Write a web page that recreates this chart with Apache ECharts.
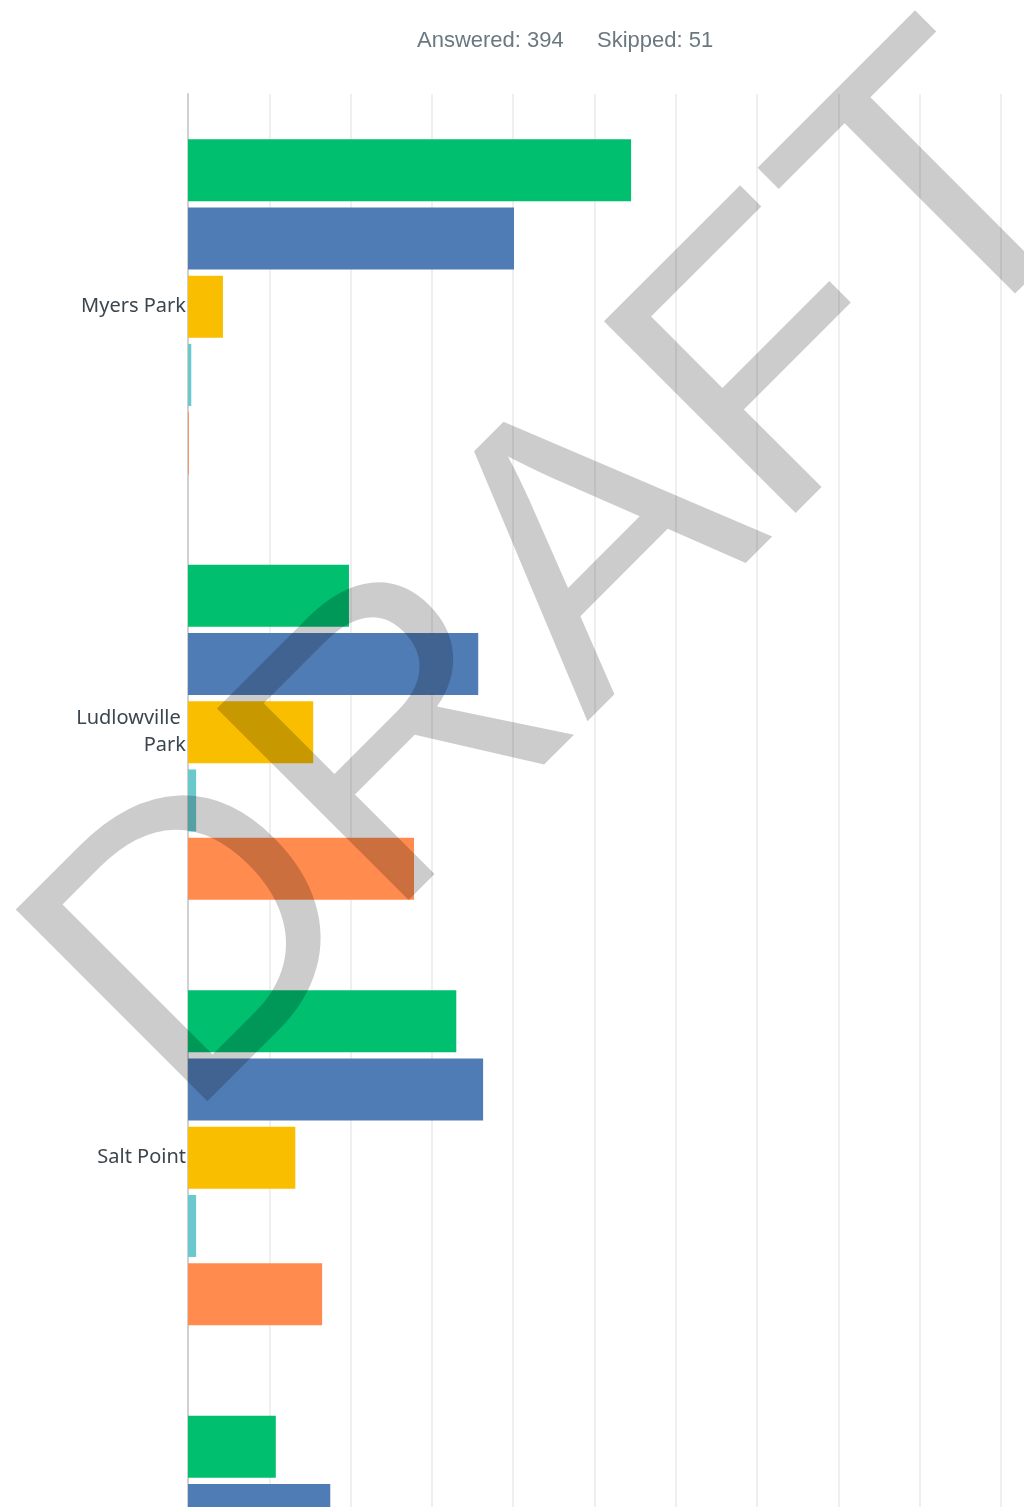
<!DOCTYPE html>
<html>
<head>
<meta charset="utf-8">
<script src="https://cdn.jsdelivr.net/npm/echarts@6/dist/echarts.min.js"></script>
<style>
  html, body { margin: 0; padding: 0; background: #fff; overflow: hidden; }
  #chart { width: 1024px; height: 1850px; }
</style>
</head>
<body>
<div id="chart"></div>
<script>
// ---- data ----
const categories = ['Myers Park', 'Ludlowville Park', 'Salt Point', 'Other'];
const seriesNames = ['Series 1', 'Series 2', 'Series 3', 'Series 4', 'Series 5'];
const series1 = [54.5, 19.8, 33.0, 10.8];  // green
const series2 = [40.1, 35.7, 36.3, 17.5];  // blue
const series3 = [4.3, 15.4, 13.2, 8.0];    // yellow
const series4 = [0.4, 1.0, 1.0, 1.0];      // teal
const series5 = [0.1, 27.8, 16.5, 12.0];   // orange
const answeredText = 'Answered: 394';
const skippedText = 'Skipped: 51';
const watermarkText = 'DRAFT';

const colors = ['#00BF6F', '#507CB6', '#F9BE00', '#6BC8CD', '#FF8B4F'];
const allValues = [series1, series2, series3, series4, series5];

const chart = echarts.init(document.getElementById('chart'), null, { renderer: 'canvas' });

const titleStyle = { fontFamily: 'Liberation Sans, Arial, sans-serif', fontSize: 22, fontWeight: 'normal', color: '#6b787f' };

const option = {
  animation: false,
  backgroundColor: '#ffffff',
  title: [
    { text: answeredText, left: 417, top: 30, padding: 0, textStyle: titleStyle },
    { text: skippedText, left: 597, top: 30, padding: 0, textStyle: titleStyle }
  ],
  grid: { left: 188, right: 23, top: 94, bottom: 54, containLabel: false },
  xAxis: {
    type: 'value', min: 0, max: 100, interval: 10,
    axisLine: { show: false }, axisTick: { show: false },
    axisLabel: { show: false },
    splitLine: { show: true, lineStyle: { color: '#efefef', width: 2 } }
  },
  yAxis: {
    type: 'category', data: categories, inverse: true,
    axisLine: { show: true, lineStyle: { color: '#d0d0d0', width: 2 } },
    axisTick: { show: false },
    axisLabel: {
      margin: 2, width: 120, overflow: 'break', align: 'right',
      padding: [6, 0, 0, 0],
      fontFamily: '"Noto Sans", sans-serif', fontSize: 20, color: '#3b454e', lineHeight: 27
    }
  },
  graphic: [{
    type: 'text', z: 100, x: 572, y: 583, rotation: Math.PI / 4,
    style: {
      text: watermarkText, fill: 'rgba(0,0,0,0.2)',
      font: 'normal 394px "Liberation Sans", Arial, sans-serif',
      textAlign: 'center', textVerticalAlign: 'middle'
    }
  }],
  series: allValues.map((vals, i) => ({
    name: seriesNames[i], type: 'bar', data: vals,
    barWidth: 62, barGap: '10%',
    itemStyle: { color: colors[i] },
    silent: true
  }))
};
chart.setOption(option);
</script>
</body>
</html>
